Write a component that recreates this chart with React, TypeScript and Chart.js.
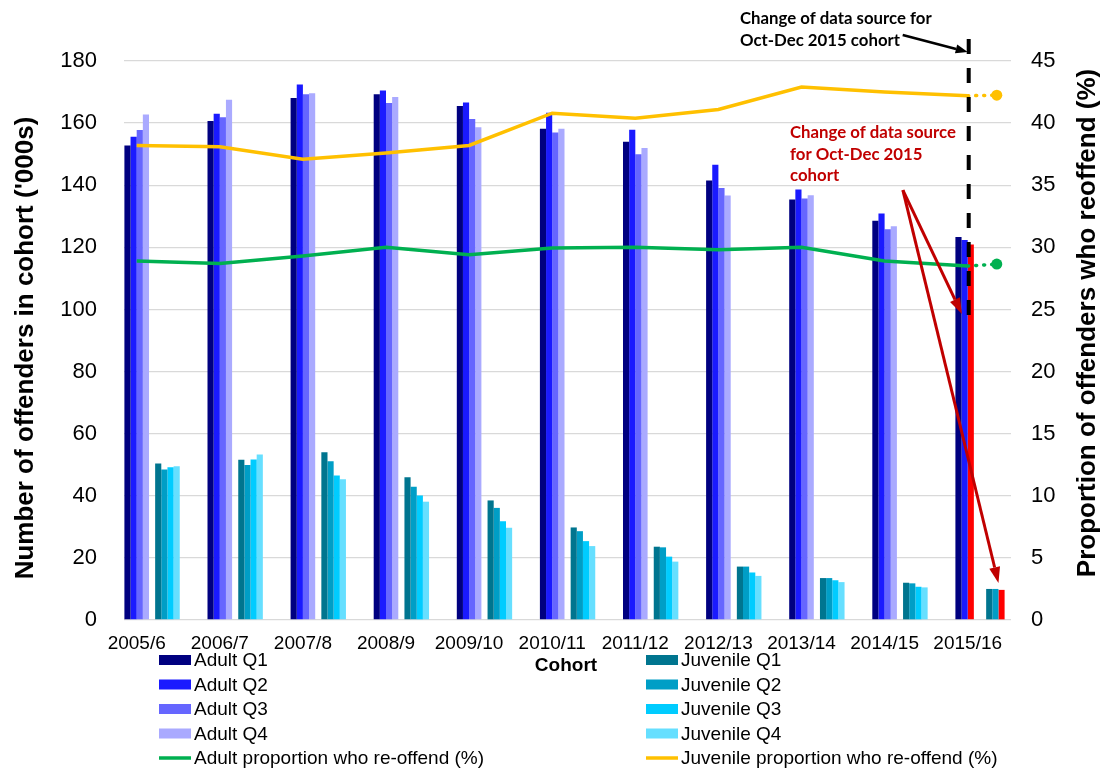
import React, { useEffect, useRef } from 'react';
import { Chart, registerables } from 'chart.js';

Chart.register(...registerables);

// ---------------- data ----------------
const cohorts = ['2005/6', '2006/7', '2007/8', '2008/9', '2009/10', '2010/11', '2011/12', '2012/13', '2013/14', '2014/15', '2015/16'];

const adultQ1 = [152.8, 160.7, 168.1, 169.3, 165.5, 158.2, 154.0, 141.5, 135.4, 128.6, 123.3];
const adultQ2 = [155.6, 163.0, 172.4, 170.5, 166.6, 163.3, 157.9, 146.6, 138.6, 130.9, 122.4];
const adultQ3 = [157.8, 161.9, 169.3, 166.5, 161.3, 157.0, 150.0, 139.1, 135.7, 125.8, 120.9];
const adultQ4 = [162.8, 167.5, 169.6, 168.4, 158.7, 158.2, 152.0, 136.7, 136.8, 126.8, null];

const juvenileQ1 = [50.4, 51.6, 54.0, 46.0, 38.5, 29.8, 23.6, 17.2, 13.5, 12.0, 10.0];
const juvenileQ2 = [48.5, 49.9, 51.1, 42.9, 36.1, 28.6, 23.4, 17.2, 13.5, 11.8, 10.0];
const juvenileQ3 = [49.2, 51.7, 46.5, 40.1, 31.8, 25.4, 20.4, 15.3, 12.8, 10.7, 9.7];
const juvenileQ4 = [49.5, 53.3, 45.3, 38.1, 29.7, 23.8, 18.8, 14.2, 12.2, 10.5, null];

const adultReoffend = [28.9, 28.7, 29.3, 30.0, 29.4, 29.95, 30.0, 29.8, 30.0, 28.9, 28.5];
const juvenileReoffend = [38.2, 38.1, 37.1, 37.6, 38.2, 40.8, 40.4, 41.1, 42.9, 42.5, 42.2];

// values after the change of data source (dotted extension)
const adultReoffendNewSource = 28.65;
const juvenileReoffendNewSource = 42.25;
const newSourceCohort = '2015/16';
const newSourceOffset = 0.35;

const leftTickValues = [0, 20, 40, 60, 80, 100, 120, 140, 160, 180];
const rightTickValues = [0, 5, 10, 15, 20, 25, 30, 35, 40, 45];

// ---------------- styles ----------------
const FONT = "'Liberation Sans', Arial, sans-serif";
const NOTE_FONT = "bold 16.8px Lato, 'Open Sans', sans-serif";
const RED = '#FF0000';
const DARK_RED = '#C00000';
const GREEN = '#00B050';
const YELLOW = '#FFC000';

const newIdx = cohorts.indexOf(newSourceCohort);
const toXY = (arr: (number | null)[]) => arr.map((v, i) => ({ x: i, y: v }));
const colorFor = (base: string) => cohorts.map((c) => (c === newSourceCohort ? RED : base));

function drawArrow(ctx: CanvasRenderingContext2D, x1: number, y1: number, x2: number, y2: number,
  color: string, width: number, headLen: number, headW: number) {
  const ang = Math.atan2(y2 - y1, x2 - x1);
  const bx = x2 - headLen * Math.cos(ang);
  const by = y2 - headLen * Math.sin(ang);
  ctx.save();
  ctx.strokeStyle = color;
  ctx.fillStyle = color;
  ctx.lineWidth = width;
  ctx.setLineDash([]);
  ctx.beginPath();
  ctx.moveTo(x1, y1);
  ctx.lineTo(bx, by);
  ctx.stroke();
  ctx.beginPath();
  ctx.moveTo(x2, y2);
  ctx.lineTo(bx + (headW / 2) * Math.sin(ang), by - (headW / 2) * Math.cos(ang));
  ctx.lineTo(bx - (headW / 2) * Math.sin(ang), by + (headW / 2) * Math.cos(ang));
  ctx.closePath();
  ctx.fill();
  ctx.restore();
}

const extrasPlugin = {
  id: 'extras',
  afterDatasetsDraw(chart: any) {
    const { ctx, scales, chartArea } = chart;
    const xs = scales.x;
    const ys = scales.y;
    const xNew = xs.getPixelForValue(newIdx) + 1;

    // dashed vertical marker
    ctx.save();
    ctx.strokeStyle = '#000';
    ctx.lineWidth = 4;
    ctx.setLineDash([15, 14]);
    ctx.beginPath();
    ctx.moveTo(xNew, chartArea.top - 22);
    ctx.lineTo(xNew, ys.getPixelForValue(98));
    ctx.stroke();
    ctx.restore();

    // black annotation
    ctx.save();
    ctx.fillStyle = '#000';
    ctx.font = NOTE_FONT;
    ctx.textAlign = 'left';
    ctx.textBaseline = 'alphabetic';
    ctx.fillText('Change of data source for', 740, 24);
    ctx.fillText('Oct-Dec 2015 cohort', 740, 46);
    ctx.restore();
    drawArrow(ctx, xNew - 66, chartArea.top - 26, xNew - 1, chartArea.top - 9, '#000', 2.5, 12, 9);

    // red annotation
    ctx.save();
    ctx.fillStyle = DARK_RED;
    ctx.font = NOTE_FONT;
    ctx.textAlign = 'left';
    ctx.textBaseline = 'alphabetic';
    ctx.fillText('Change of data source', 790, 138);
    ctx.fillText('for Oct-Dec 2015', 790, 159.5);
    ctx.fillText('cohort', 790, 181);
    ctx.restore();
    const sx = xs.getPixelForValue(newIdx - 0.78);
    const sy = ys.getPixelForValue(138.4);
    drawArrow(ctx, sx, sy, xs.getPixelForValue(newIdx - 0.07), ys.getPixelForValue(98.5), DARK_RED, 3, 16, 11);
    drawArrow(ctx, sx, sy, xs.getPixelForValue(newIdx + 0.37), ys.getPixelForValue(11.9), DARK_RED, 3, 16, 11);
  },
  afterDraw(chart: any) {
    const { ctx } = chart;
    // axis titles
    ctx.save();
    ctx.fillStyle = '#000';
    ctx.font = `bold 26px ${FONT}`;
    ctx.textAlign = 'center';
    ctx.textBaseline = 'middle';
    ctx.translate(26, 348);
    ctx.rotate(-Math.PI / 2);
    ctx.fillText("Number of offenders in cohort ('000s)", 0, 0);
    ctx.restore();

    ctx.save();
    ctx.fillStyle = '#000';
    ctx.font = `bold 26px ${FONT}`;
    ctx.textAlign = 'center';
    ctx.textBaseline = 'middle';
    ctx.translate(1088, 323);
    ctx.rotate(-Math.PI / 2);
    ctx.fillText('Proportion of offenders who reoffend (%)', 0, 0);
    ctx.restore();

    // x title
    ctx.save();
    ctx.fillStyle = '#000';
    ctx.font = `bold 19px ${FONT}`;
    ctx.textAlign = 'center';
    ctx.textBaseline = 'middle';
    ctx.fillText('Cohort', 566, 666);
    ctx.restore();

    // legend (two columns: bars first, then the line)
    const all = chart.data.datasets.filter((d: any) => d.label && !d.hideInLegend);
    const items = [...all.filter((d: any) => d.type === 'bar'), ...all.filter((d: any) => d.type === 'line')];
    const left = items.filter((d: any) => d.label.startsWith('Adult'));
    const right = items.filter((d: any) => d.label.startsWith('Juvenile'));
    const rowY = [660, 684.5, 709, 733.5, 758];
    const drawCol = (list: any[], sx0: number) => {
      list.forEach((d: any, i: number) => {
        const yy = rowY[i];
        ctx.save();
        if (d.type === 'line') {
          ctx.strokeStyle = d.borderColor;
          ctx.lineWidth = 3.5;
          ctx.beginPath();
          ctx.moveTo(sx0, yy);
          ctx.lineTo(sx0 + 32, yy);
          ctx.stroke();
        } else {
          ctx.fillStyle = Array.isArray(d.backgroundColor) ? d.backgroundColor[0] : d.backgroundColor;
          ctx.fillRect(sx0, yy - 5, 32, 10);
        }
        ctx.fillStyle = '#000';
        ctx.font = `19px ${FONT}`;
        ctx.textAlign = 'left';
        ctx.textBaseline = 'middle';
        ctx.fillText(d.label, sx0 + 35, yy + 1);
        ctx.restore();
      });
    };
    drawCol(left, 159);
    drawCol(right, 646);
  },
};

const barBase = { type: 'bar' as const, order: 1, xAxisID: 'x', yAxisID: 'y', borderWidth: 0 };
const spacer = () => ({ ...barBase, label: '', data: [] as any[], backgroundColor: 'transparent' });

export default function App() {
  const ref = useRef<HTMLCanvasElement | null>(null);

  useEffect(() => {
    if (!ref.current) return;
    const datasets: any[] = [
      {
        type: 'line', label: 'Adult proportion who re-offend (%)', order: 0, xAxisID: 'x', yAxisID: 'y1',
        data: toXY(adultReoffend), borderColor: GREEN, borderWidth: 3.5, pointRadius: 0, tension: 0,
      },
      {
        type: 'line', label: 'Juvenile proportion who re-offend (%)', order: 0, xAxisID: 'x', yAxisID: 'y1',
        data: toXY(juvenileReoffend), borderColor: YELLOW, borderWidth: 3.5, pointRadius: 0, tension: 0,
      },
      {
        type: 'line', label: 'adult-new', hideInLegend: true, order: 0, xAxisID: 'x', yAxisID: 'y1',
        data: [{ x: newIdx, y: adultReoffend[newIdx] }, { x: newIdx + newSourceOffset, y: adultReoffendNewSource }],
        borderColor: GREEN, backgroundColor: GREEN, borderWidth: 3.5, borderDash: [1, 7], borderCapStyle: 'round',
        pointRadius: [0, 5.5], pointBorderWidth: 0, pointBackgroundColor: GREEN,
      },
      {
        type: 'line', label: 'juv-new', hideInLegend: true, order: 0, xAxisID: 'x', yAxisID: 'y1',
        data: [{ x: newIdx, y: juvenileReoffend[newIdx] }, { x: newIdx + newSourceOffset, y: juvenileReoffendNewSource }],
        borderColor: YELLOW, backgroundColor: YELLOW, borderWidth: 3.5, borderDash: [1, 7], borderCapStyle: 'round',
        pointRadius: [0, 5.5], pointBorderWidth: 0, pointBackgroundColor: YELLOW,
      },
      spacer(), spacer(), spacer(), spacer(), spacer(),
      { ...barBase, label: 'Adult Q1', data: toXY(adultQ1), backgroundColor: '#000080' },
      { ...barBase, label: 'Adult Q2', data: toXY(adultQ2), backgroundColor: '#1A1AFF' },
      { ...barBase, label: 'Adult Q3', data: toXY(adultQ3), backgroundColor: colorFor('#6666FF') },
      { ...barBase, label: 'Adult Q4', data: toXY(adultQ4), backgroundColor: '#AAAAFF' },
      spacer(),
      { ...barBase, label: 'Juvenile Q1', data: toXY(juvenileQ1), backgroundColor: '#00758F' },
      { ...barBase, label: 'Juvenile Q2', data: toXY(juvenileQ2), backgroundColor: '#009EC6' },
      { ...barBase, label: 'Juvenile Q3', data: toXY(juvenileQ3), backgroundColor: colorFor('#00CCFF') },
      { ...barBase, label: 'Juvenile Q4', data: toXY(juvenileQ4), backgroundColor: '#66DFFF' },
    ];

    const chart = new Chart(ref.current, {
      type: 'bar',
      data: { datasets },
      plugins: [extrasPlugin as any],
      options: {
        responsive: false,
        animation: false,
        events: [],
        layout: { padding: { top: 61, left: 0, right: 0, bottom: 0 } },
        datasets: { bar: { categoryPercentage: 1.036, barPercentage: 1 } },
        plugins: { legend: { display: false }, tooltip: { enabled: false } },
        scales: {
          x: {
            type: 'linear',
            position: 'bottom',
            offset: false,
            min: -0.1528,
            max: 10.521,
            grid: { display: false, drawTicks: false, offset: false },
            border: { display: false },
            afterBuildTicks: (scale: any) => { scale.ticks = cohorts.map((_, i) => ({ value: i })); },
            afterFit: (scale: any) => { scale.height = 149; },
            ticks: {
              autoSkip: false, maxRotation: 0, minRotation: 0, padding: 12, color: '#000',
              font: { family: FONT, size: 19 },
              callback: (_v: any, i: number) => cohorts[i],
            },
          },
          y: {
            position: 'left',
            min: 0,
            max: 180,
            grid: { color: '#D9D9D9', lineWidth: 1.3, drawTicks: false },
            border: { display: false },
            afterBuildTicks: (scale: any) => { scale.ticks = leftTickValues.map((v) => ({ value: v })); },
            afterFit: (scale: any) => { scale.width = 124; },
            ticks: { padding: 27, color: '#000', font: { family: FONT, size: 22 } },
          },
          y1: {
            position: 'right',
            min: 0,
            max: 45,
            grid: { display: false, drawTicks: false },
            border: { display: false },
            afterBuildTicks: (scale: any) => { scale.ticks = rightTickValues.map((v) => ({ value: v })); },
            afterFit: (scale: any) => { scale.width = 90; },
            ticks: { padding: 20, color: '#000', font: { family: FONT, size: 22 } },
          },
        },
      } as any,
    });
    return () => chart.destroy();
  }, []);

  return (
    <div style={{ position: 'absolute', left: 0, top: 0, width: 1101, height: 769, background: '#fff' }}>
      <canvas ref={ref} width={1101} height={769} style={{ display: 'block' }} />
    </div>
  );
}
